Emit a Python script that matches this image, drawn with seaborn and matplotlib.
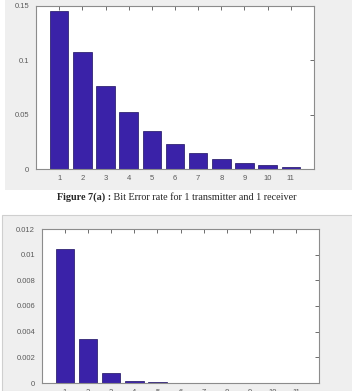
import seaborn as sns
import matplotlib.pyplot as plt
import matplotlib.patches as mpatches
import pandas as pd


# bar labels and BER values
labels = ['1', '2', '3', '4', '5', '6', '7', '8', '9', '10', '11']
ber_top = [0.1457, 0.1074, 0.0762, 0.0523, 0.0352, 0.0230, 0.0147, 0.0095, 0.0058, 0.0037, 0.0021]
ber_bottom = [0.01047, 0.00340, 0.00080, 0.00016, 0.00005, 0.00001, 0.0, 0.0, 0.0, 0.0, 0.0]
yticks_top = [0, 0.05, 0.1, 0.15]
ytick_labels_top = ['0', '0.05', '0.1', '0.15']
yticks_bottom = [0, 0.002, 0.004, 0.006, 0.008, 0.01, 0.012]
ytick_labels_bottom = ['0', '0.002', '0.004', '0.006', '0.008', '0.01', '0.012']
caption_bold = 'Figure 7(a) :'
caption_rest = ' Bit Error rate for 1 transmitter and 1 receiver'

sns.set_style('white')
plt.rcParams['font.family'] = ['Liberation Sans', 'DejaVu Sans']

bar_color = '#3a22a8'
panel_grey = '#efefef'
W, H = 352, 391

fig = plt.figure(figsize=(W / 100, H / 100), dpi=100)
fig.patch.set_facecolor('white')

# grey panel backgrounds (screenshots of the MATLAB figures)
fig.add_artist(mpatches.Rectangle((5 / W, 1 - 190 / H), 1 - 5 / W, 190 / H,
                                  transform=fig.transFigure, facecolor=panel_grey,
                                  edgecolor='none', zorder=0))
fig.add_artist(mpatches.Rectangle((2 / W, 0), 1, 1 - 215 / H,
                                  transform=fig.transFigure, facecolor=panel_grey,
                                  edgecolor='#cfcfcf', linewidth=0.8, zorder=0))

ax1 = fig.add_axes([36 / W, 1 - 169 / H, 278 / W, 163 / H])
ax2 = fig.add_axes([42 / W, 1 - 383 / H, 277 / W, 154 / H])


def style_axes(ax, vals, yticks, ytick_labels, ymax):
    df = pd.DataFrame({'n': labels, 'ber': vals})
    sns.barplot(data=df, x='n', y='ber', order=labels, color=bar_color, saturation=1,
                width=0.8, edgecolor='#1c1060', linewidth=0.5, ax=ax)
    ax.set_xlim(-1, 11)
    ax.set_ylim(0, ymax)
    ax.set_xlabel('')
    ax.set_ylabel('')
    ax.set_facecolor('white')
    ax.set_yticks(yticks)
    ax.set_yticklabels(ytick_labels)
    ax.tick_params(axis='both', direction='in', length=3, width=0.6, color='#555555',
                   labelsize=5.5, labelcolor='#5a5a5a', top=True, right=True)
    ax.tick_params(axis='x', pad=4)
    ax.tick_params(axis='y', pad=5)
    for s in ax.spines.values():
        s.set_visible(True)
        s.set_color('#8c8c8c')
        s.set_linewidth(0.8)


style_axes(ax1, ber_top, yticks_top, ytick_labels_top, 0.15)
style_axes(ax2, ber_bottom, yticks_bottom, ytick_labels_bottom, 0.012)

# caption: bold "Figure 7(a) :" followed by the plain text
t1 = fig.text(57 / W, 1 - 197 / H, caption_bold, family='Liberation Serif',
              fontsize=7.3, fontweight='bold', va='center', ha='left')
fig.canvas.draw()
ax1.annotate(caption_rest, xy=(1, 0), xycoords=t1, va='bottom', ha='left',
             family='Liberation Serif', fontsize=7.3, annotation_clip=False)

fig.savefig('out.png', dpi=100, facecolor='white')
